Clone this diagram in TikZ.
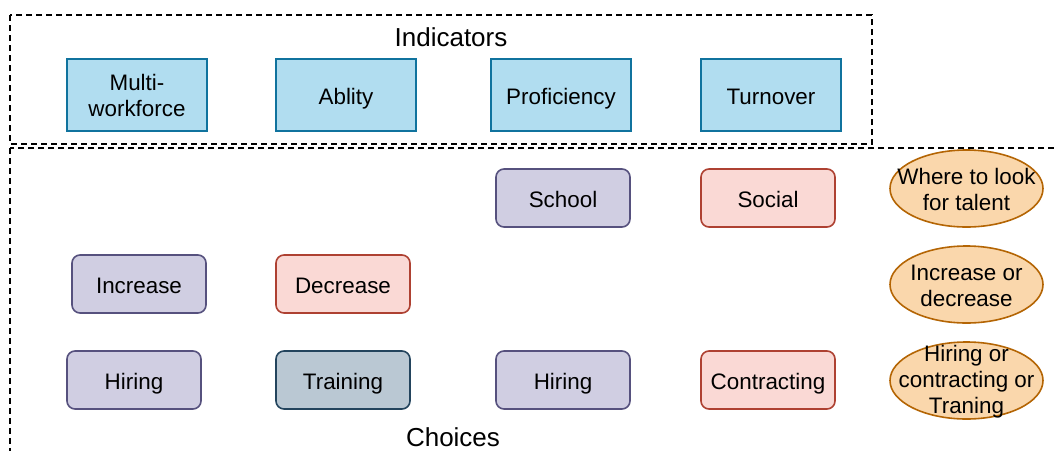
\documentclass[tikz,border=0pt]{standalone}
\usepackage{fontspec}
\setmainfont{Liberation Sans}
\usepackage{tikz}
\usetikzlibrary{positioning}
\usetikzlibrary{shapes.geometric}
\definecolor{indfill}{HTML}{B1DDF0}
\definecolor{inddraw}{HTML}{10739E}
\definecolor{purfill}{HTML}{D0CEE2}
\definecolor{purdraw}{HTML}{56517E}
\definecolor{redfill}{HTML}{FAD9D5}
\definecolor{reddraw}{HTML}{AE4132}
\definecolor{grayfill}{HTML}{BAC8D3}
\definecolor{graydraw}{HTML}{23445D}
\definecolor{orafill}{HTML}{FAD7AC}
\definecolor{oradraw}{HTML}{B46504}
\tikzstyle{indicator}=[rectangle,fill=indfill,draw=inddraw,line width=0.8pt,minimum width=70pt,minimum height=36pt,inner sep=0pt,align=center,font=\fontsize{11.2}{13}\selectfont]
\tikzstyle{choice}=[rectangle,rounded corners=4pt,line width=0.8pt,minimum width=67pt,minimum height=29pt,inner sep=0pt,text height=9.5pt,text depth=0.5pt,font=\fontsize{11.2}{13}\selectfont]
\tikzstyle{oneline}=[text height=9.5pt,text depth=0.5pt]
\tikzstyle{question}=[ellipse,fill=orafill,draw=oradraw,line width=0.8pt,minimum width=76.5pt,minimum height=38.5pt,inner sep=0pt]
\tikzstyle{groupbox}=[draw=black,line width=0.75pt,dash pattern=on 3pt off 2pt]
\tikzstyle{title} = [font=\fontsize{13}{15}\selectfont]

\begin{document}
\begin{tikzpicture}[x=0.5pt, y=-0.5pt]

    \useasboundingbox (0,0) rectangle (1054,450);

    % dashed groups
    \draw[groupbox] (10,15) rectangle (872,144);
    \draw[groupbox] (10,148) rectangle (1070,470);
    \node[title] (indicators) at (451,37) {Indicators};
    \node[title] (choices) at (453,437) {Choices};

    \node[indicator] (mw) at (137,95) {Multi-\\workforce};
    \foreach \pos/\name/\txt in {{(346,95)/abl/Ablity}, {(561,95)/prof/Proficiency}, {(771,95)/turn/Turnover}}
        \node[indicator,oneline] (\name) at \pos {\txt};

    \foreach \pos/\name/\txt in {{(563,198)/school/School}, {(139,284)/incr/Increase}, {(134,380)/hire/Hiring}, {(563,380)/hiretwo/Hiring}}
        \node[choice,fill=purfill,draw=purdraw] (\name) at \pos {\txt};

    \foreach \pos/\name/\txt in {{(768,198)/social/Social}, {(343,284)/decr/Decrease}, {(768,380)/contr/Contracting}}
        \node[choice,fill=redfill,draw=reddraw] (\name) at \pos {\txt};

    \node[choice,fill=grayfill,draw=graydraw] (train) at (343,380) {Training};

%questions
    \foreach \pos/\name/\txt in {{(966.5,188.5)/talent/{Where to look\\for talent}}, {(966.5,284.5)/incdec/{Increase or\\decrease}}, {(966.5,380.5)/hct/{Hiring or\\contracting or\\Traning}}}
        \node[question,label={[align=center,yshift=-0.7pt,font=\fontsize{11.2}{13}\selectfont]center:\txt}] (\name) at \pos {};

\end{tikzpicture}
\end{document}
